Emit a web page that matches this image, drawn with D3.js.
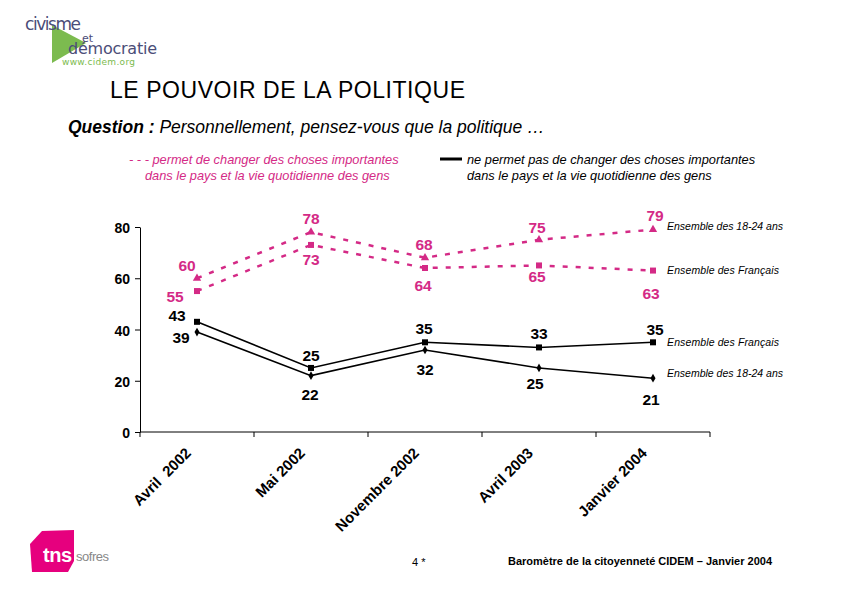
<!DOCTYPE html>
<html lang="fr">
<head>
<meta charset="UTF-8">
<script src="https://d3js.org/d3.v7.min.js"></script>
<style>
  body { margin: 0; background: #fff; }
  text { font-family: Arial, "Liberation Sans", sans-serif; }
</style>
</head>
<body>
<script>
// donnees
var periodes = ["Avril  2002", "Mai 2002", "Novembre 2002", "Avril 2003", "Janvier 2004"];
var permet1824 = [60, 78, 68, 75, 79];
var permetFr = [55, 73, 64, 65, 63];
var nePermetFr = [43, 25, 35, 33, 35];
var nePermet1824 = [39, 22, 32, 25, 21];
var yTicks = [0, 20, 40, 60, 80];

var pink = "#d42a86";

var svg = d3.select("body").append("svg")
    .attr("width", 842)
    .attr("height", 595);

// logo civisme et democratie
var logoFont = "DejaVu Sans, sans-serif";
svg.append("polygon")
    .attr("points", "52,25 52,63 86,43")
    .attr("fill", "#7cbb4f");
svg.append("text").attr("x", 25).attr("y", 30).attr("font-size", 17)
    .attr("fill", "#4b4d78").style("font-family", logoFont)
    .attr("textLength", 56).text("civisme");
svg.append("text").attr("x", 82).attr("y", 42).attr("font-size", 11)
    .attr("fill", "#4b4d78").style("font-family", logoFont).text("et");
svg.append("text").attr("x", 68).attr("y", 54).attr("font-size", 16)
    .attr("fill", "#4b4d78").style("font-family", logoFont)
    .attr("textLength", 89).text("démocratie");
svg.append("text").attr("x", 62).attr("y", 65).attr("font-size", 9)
    .attr("fill", "#7cbb4f").style("font-family", logoFont)
    .attr("textLength", 73).text("www.cidem.org");

// titre
svg.append("text").attr("x", 110).attr("y", 98).attr("font-size", 23)
    .attr("textLength", 355).text("LE POUVOIR DE LA POLITIQUE");
var q = svg.append("text").attr("x", 68).attr("y", 133).attr("font-size", 17.5)
    .attr("font-style", "italic");
q.append("tspan").attr("font-weight", "bold").text("Question : ");
q.append("tspan").text("Personnellement, pensez-vous que la politique …");

// legende
var leg = svg.append("g").attr("font-size", 12.8).attr("font-style", "italic");
leg.append("text").attr("x", 129).attr("y", 164).attr("fill", pink)
    .text("- - - permet de changer des choses importantes");
leg.append("text").attr("x", 145).attr("y", 180).attr("fill", pink)
    .text("dans le pays et la vie quotidienne des gens");
leg.append("line").attr("x1", 440).attr("x2", 462).attr("y1", 159).attr("y2", 159)
    .attr("stroke", "#000").attr("stroke-width", 3);
leg.append("text").attr("x", 467).attr("y", 164)
    .text("ne permet pas de changer des choses importantes");
leg.append("text").attr("x", 467).attr("y", 180)
    .text("dans le pays et la vie quotidienne des gens");

// echelles
var x = d3.scaleBand().domain(periodes).range([140, 710]);
var y = d3.scaleLinear().domain([0, 80]).range([432, 227]);
var cx = function(d, i) { return x(periodes[i]) + x.bandwidth() / 2; };

// axes
var yAxis = svg.append("g").attr("transform", "translate(140,0)")
    .call(d3.axisLeft(y).tickValues(yTicks).tickSize(5).tickSizeOuter(0));
yAxis.selectAll("text").attr("font-size", 14).attr("font-weight", "bold")
    .attr("fill", "#000").attr("dx", -2).attr("dy", "0.4em")
    .style("font-family", "Arial, sans-serif");
yAxis.select(".domain").attr("stroke", "#000");

var xTickPos = x.domain().map(function(d) { return x(d); }).concat([710]);
var xAxis = svg.append("g");
xAxis.append("line").attr("x1", 140).attr("x2", 710).attr("y1", y(0)).attr("y2", y(0))
    .attr("stroke", "#000");
xAxis.selectAll("line.t").data(xTickPos).enter().append("line").attr("class", "t")
    .attr("x1", function(d) { return d; }).attr("x2", function(d) { return d; })
    .attr("y1", y(0)).attr("y2", y(0) + 5).attr("stroke", "#000");
xAxis.selectAll("text").data(periodes).enter().append("text")
    .attr("transform", function(d) {
        return "translate(" + (x(d) + x.bandwidth() / 2 - 5) + "," + (y(0) + 22) + ") rotate(-45)";
    })
    .attr("text-anchor", "end")
    .attr("font-size", 15).attr("font-weight", "bold")
    .style("white-space", "pre")
    .text(function(d) { return d; });

var line = d3.line().x(cx).y(function(d) { return y(d); });

function serie(vals, color, dash, marker) {
    svg.append("path").datum(vals).attr("d", line)
        .attr("fill", "none").attr("stroke", color).attr("stroke-width", dash ? 2.5 : 1.6)
        .attr("stroke-dasharray", dash ? "5,8" : null);
    var g = svg.append("g");
    vals.forEach(function(v, i) {
        var px = cx(v, i), py = y(v);
        if (marker === "square") {
            g.append("rect").attr("x", px - 3).attr("y", py - 3).attr("width", 6).attr("height", 6)
                .attr("fill", color);
        } else if (marker === "triangle") {
            g.append("path").attr("d", d3.symbol(d3.symbolTriangle, 30)())
                .attr("transform", "translate(" + px + "," + py + ")").attr("fill", color);
        } else {
            g.append("path").attr("d", d3.symbol(d3.symbolDiamond, 22)())
                .attr("transform", "translate(" + px + "," + py + ")").attr("fill", color);
        }
    });
}

serie(permet1824, pink, true, "triangle");
serie(permetFr, pink, true, "square");
serie(nePermetFr, "#000", false, "square");
serie(nePermet1824, "#000", false, "diamond");

// etiquettes de valeurs (decalages)
function labels(vals, color, offs) {
    svg.append("g").selectAll("text").data(vals).enter().append("text")
        .attr("x", function(d, i) { return cx(d, i) + offs[i][0]; })
        .attr("y", function(d, i) { return y(d) + offs[i][1]; })
        .attr("text-anchor", "middle")
        .attr("font-size", 15.5).attr("font-weight", "bold").attr("fill", color)
        .text(function(d) { return d; });
}
labels(permet1824, pink, [[-10, -7], [0, -8], [-1, -8], [-2, -7], [2, -9]]);
labels(permetFr, pink, [[-22, 11], [0, 20], [-2, 23], [-2, 17], [-2, 28]]);
labels(nePermetFr, "#000", [[-20, -1], [0, -7], [-1, -8], [0, -8], [2, -7]]);
labels(nePermet1824, "#000", [[-16, 11], [-1, 24], [0, 25], [-4, 21], [-2, 27]]);

// noms des series
var noms = [
    { t: "Ensemble des 18-24 ans", v: 79, dy: 0 },
    { t: "Ensemble des Français", v: 63, dy: 3 },
    { t: "Ensemble des Français", v: 35, dy: 4 },
    { t: "Ensemble des 18-24 ans", v: 21, dy: -1 }
];
svg.append("g").selectAll("text").data(noms).enter().append("text")
    .attr("x", 667).attr("y", function(d) { return y(d.v) + d.dy; })
    .attr("font-size", 10.5).attr("font-style", "italic")
    .attr("textLength", function(d) { return d.t.indexOf("18") > 0 ? 116 : 112; })
    .text(function(d) { return d.t; });

// pied de page
svg.append("path")
    .attr("d", "M42,531 L74,530 L74,561 L68,572 L32,572 L30,544 Z")
    .attr("fill", "#e6007e");
svg.append("text").attr("x", 43).attr("y", 562).attr("font-size", 20).attr("font-weight", "bold")
    .attr("fill", "#fff").attr("textLength", 29).text("tns");
svg.append("text").attr("x", 76).attr("y", 561).attr("font-size", 13)
    .attr("fill", "#888").attr("textLength", 33).text("sofres");
svg.append("text").attr("x", 412).attr("y", 566).attr("font-size", 11).text("4 *");
svg.append("text").attr("x", 508).attr("y", 565).attr("font-size", 11).attr("font-weight", "bold")
    .attr("textLength", 264)
    .text("Baromètre de la citoyenneté CIDEM – Janvier 2004");
</script>
</body>
</html>
